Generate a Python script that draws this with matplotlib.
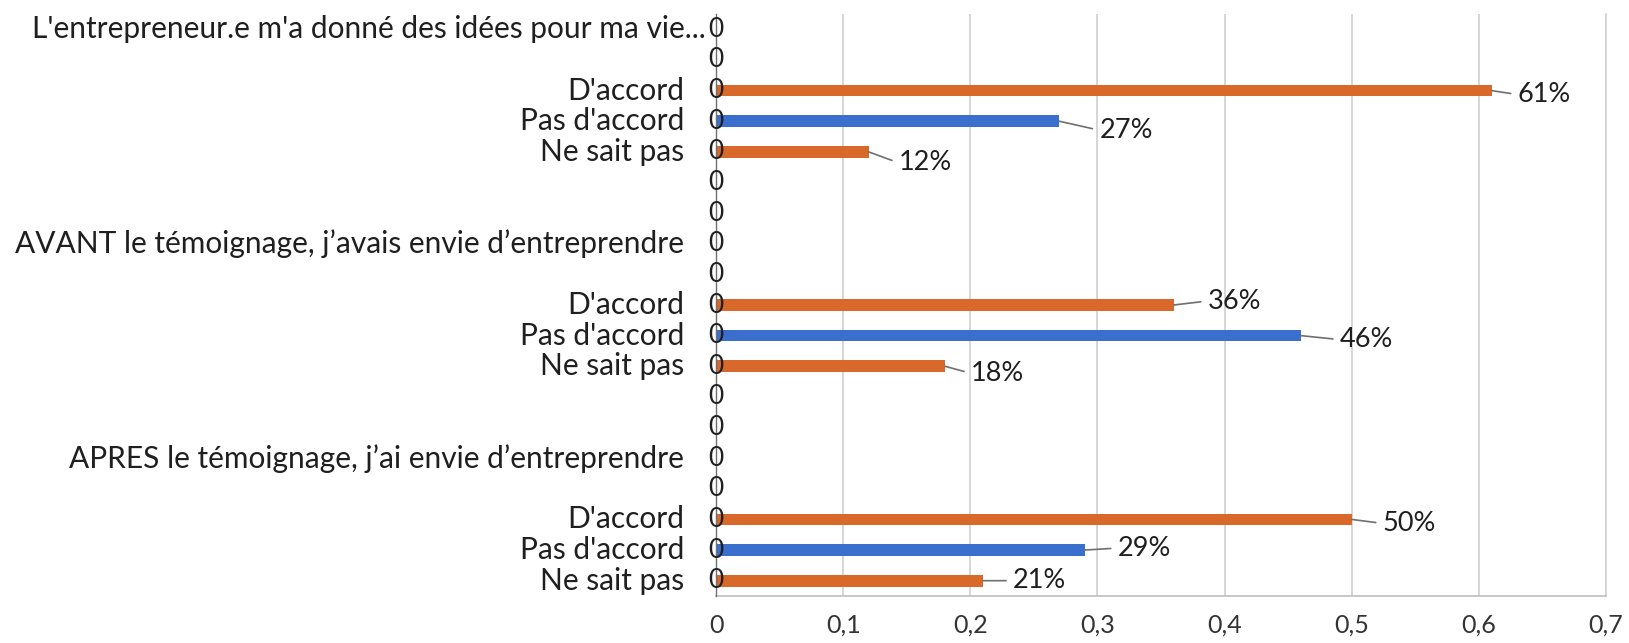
import matplotlib
matplotlib.use("Agg")
import matplotlib.pyplot as plt
import matplotlib.transforms as mtransforms

plt.rcParams['font.family'] = ['Lato', 'DejaVu Sans']

# ---- data ----
categories = [
    "L'entrepreneur.e m'a donné des idées pour ma vie...",
    "",
    "D'accord",
    "Pas d'accord",
    "Ne sait pas",
    "",
    "",
    "AVANT le témoignage, j’avais envie d’entreprendre",
    "",
    "D'accord",
    "Pas d'accord",
    "Ne sait pas",
    "",
    "",
    "APRES le témoignage, j’ai envie d’entreprendre",
    "",
    "D'accord",
    "Pas d'accord",
    "Ne sait pas",
]
values = [0, 0, 0.61, 0.27, 0.12, 0, 0, 0, 0, 0.36, 0.46, 0.18, 0, 0, 0, 0, 0.50, 0.29, 0.21]
zero_series = [0] * len(categories)
xticks = [0, 0.1, 0.2, 0.3, 0.4, 0.5, 0.6, 0.7]
xtick_labels = ["0", "0,1", "0,2", "0,3", "0,4", "0,5", "0,6", "0,7"]

# ---- style ----
ORANGE = "#D9692B"
BLUE = "#3B6FCD"
TEXT = "#1f1f1f"
FS_CAT = 21.5
FS_VAL = 19.5
FS_ZERO = 19
FS_TICK = 18

# label offsets (pixels from bar end): dx, dy (down positive)
label_offsets = {
    2: (26, 4), 3: (40, 9), 4: (30, 11),
    9: (34, -4), 10: (39, 4), 11: (26, 7),
    16: (31, 4), 17: (33, -2), 18: (30, 0),
}

W, H = 1629, 643
fig = plt.figure(figsize=(W / 100, H / 100), dpi=100)
ax = fig.add_axes([716 / W, 1 - 596 / H, (1606 - 716) / W, (596 - 14) / H])

ypos = list(range(len(categories)))
colors = [BLUE if c.startswith("Pas") else ORANGE for c in categories]
ax.barh(ypos, values, height=0.38, color=colors, zorder=3)

ax.set_xlim(0, 0.7)
ax.set_ylim(len(categories) - 0.5, -0.5)

ax.set_xticks(xticks)
ax.set_xticklabels(xtick_labels, fontsize=FS_TICK, color="#333333")
ax.tick_params(axis="x", length=0, pad=13)
ax.set_yticks([])
ax.xaxis.grid(True, color="#cfcfcf", lw=1.2, zorder=0)
ax.set_axisbelow(True)

ax.spines["top"].set_visible(False)
ax.spines["right"].set_color("#cfcfcf")
ax.spines["right"].set_linewidth(1.2)
ax.spines["bottom"].set_color("#bfbfbf")
ax.spines["bottom"].set_linewidth(1.2)
ax.spines["left"].set_color("#6f6f6f")
ax.spines["left"].set_linewidth(1.0)
ax.spines["left"].set_zorder(4)

# category labels
for i, lab in enumerate(categories):
    if not lab:
        continue
    pad = -10 if i == 0 else -32
    tr = mtransforms.offset_copy(ax.get_yaxis_transform(), fig=fig, x=pad, y=0, units="dots")
    ax.text(0, i, lab, transform=tr, ha="right", va="center", fontsize=FS_CAT, color=TEXT)

# zero-series labels
for i, z in enumerate(zero_series):
    ax.text(z, i, f"{z:g}", ha="center", va="center", fontsize=FS_ZERO, color=TEXT, zorder=5)

# value labels with leader lines
for i, v in enumerate(values):
    if v <= 0:
        continue
    dx, dy = label_offsets.get(i, (28, 0))
    ax.annotate(f"{round(v * 100):d}%", xy=(v, i), xytext=(dx, -dy), textcoords="offset pixels",
                ha="left", va="center", fontsize=FS_VAL, color=TEXT, zorder=6,
                arrowprops=dict(arrowstyle="-", color="#6f6f6f", lw=1.2, shrinkA=3, shrinkB=0,
                                relpos=(0, 0.5)))

fig.savefig("out.png", dpi=100, facecolor="white")
